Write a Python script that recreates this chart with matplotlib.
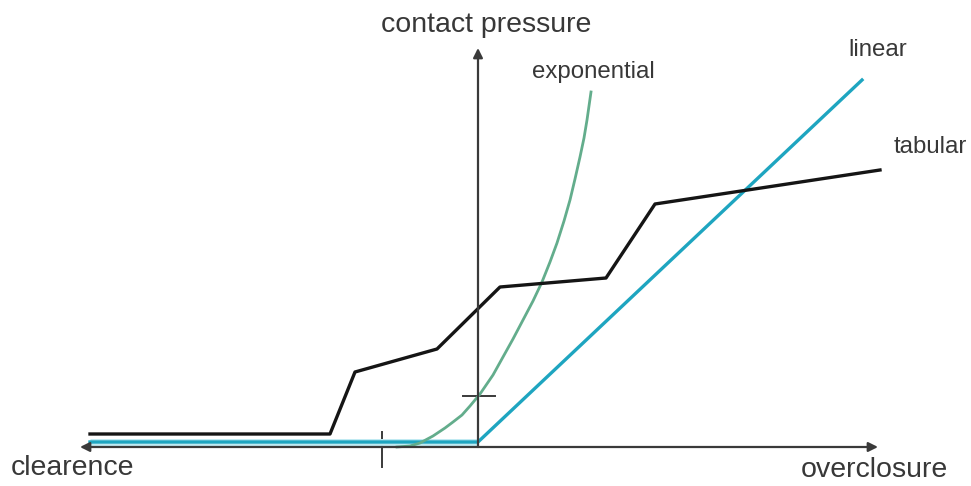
import matplotlib.pyplot as plt

# curve points (origin at the axes crossing, positive y = contact pressure)
tab_x = [-388, -148, -123, -41, 22, 128, 177, 402]
tab_y = [13, 13, 75, 98, 160, 169, 243, 277]

lin_x = [-388, 0, 384]
lin_y = [5, 5, 367]

exp_x = [-81, -68, -58, -45, -33, -25, -16, -8, 2, 15, 25, 35, 45, 55,
         64, 72, 79, 86, 92, 97, 102, 106, 109, 111, 113]
exp_y = [0, 1, 4, 11, 19, 25, 32, 41, 53, 72, 90, 108, 127, 146,
         165, 185, 204, 226, 247, 268, 290, 309, 327, 341, 355]

# small marks on the axes
tick_clear = -96
tick_press = 51

axis_col = '#3a3a3a'
txt_col = '#383838'
font = 'Liberation Sans'

fig = plt.figure(figsize=(9.71, 4.86), dpi=100)
ax = fig.add_axes([0, 0, 1, 1])
ax.set_xlim(-478, 493)
ax.set_ylim(-39, 447)
ax.axis('off')

# axes with arrows
ax.annotate('', xy=(-398, 0), xytext=(400, 0),
            arrowprops=dict(arrowstyle='<|-|>', color=axis_col, lw=1.6,
                            mutation_scale=14, shrinkA=0, shrinkB=0))
ax.annotate('', xy=(0, 399), xytext=(0, 0),
            arrowprops=dict(arrowstyle='-|>', color=axis_col, lw=1.6,
                            mutation_scale=14, shrinkA=0, shrinkB=0))

ax.plot([tick_clear, tick_clear], [-20, 15], color=axis_col, lw=1.4)
ax.plot([-15, 17], [tick_press, tick_press], color=axis_col, lw=1.4)

# curves
ax.plot(lin_x[:2], lin_y[:2], color='#bfeaf2', lw=5, solid_capstyle='butt')
ax.plot(lin_x, lin_y, color='#1ea5c0', lw=2.4)
ax.plot(exp_x, exp_y, color='#63ad8c', lw=2.0)
ax.plot(tab_x, tab_y, color='#151515', lw=2.4)

# labels
ax.text(8, 422, 'contact pressure', ha='center', va='center',
        fontsize=20.5, color=txt_col, family=font)
ax.text(-406, -21, 'clearence', ha='center', va='center',
        fontsize=20.5, color=txt_col, family=font)
ax.text(396, -23, 'overclosure', ha='center', va='center',
        fontsize=20.5, color=txt_col, family=font)
ax.text(115, 375, 'exponential', ha='center', va='center',
        fontsize=17.3, color=txt_col, family=font)
ax.text(400, 397, 'linear', ha='center', va='center',
        fontsize=17.3, color=txt_col, family=font)
ax.text(452, 300, 'tabular', ha='center', va='center',
        fontsize=17.3, color=txt_col, family=font)

fig.savefig('out.png', dpi=100)
